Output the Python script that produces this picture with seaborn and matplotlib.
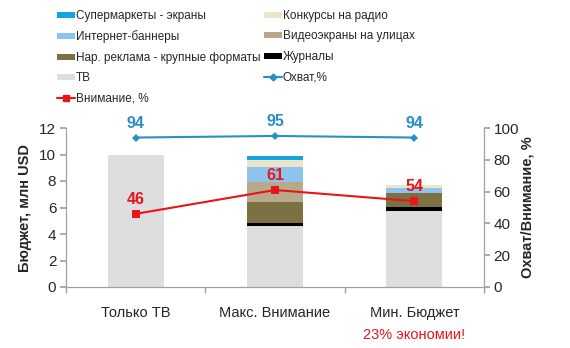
import numpy as np
import pandas as pd
import matplotlib
matplotlib.use("Agg")
import matplotlib.pyplot as plt
from matplotlib.patches import Patch
from matplotlib.lines import Line2D
import seaborn as sns

# ---- data ----
scenarios = ["Только ТВ", "Макс. Внимание", "Мин. Бюджет"]
media = ["ТВ", "Журналы", "Нар. реклама - крупные форматы", "Видеоэкраны на улицах",
         "Интернет-баннеры", "Конкурсы на радио", "Супермаркеты - экраны"]
tv = [10.0, 4.6, 5.76]
magazines = [0.0, 0.25, 0.25]
outdoor_large = [0.0, 1.54, 1.06]
video_screens = [0.0, 1.55, 0.0]
internet = [0.0, 1.09, 0.38]
radio = [0.0, 0.57, 0.25]
supermarkets = [0.0, 0.30, 0.0]
reach = [94, 95, 94]
attention = [46, 61, 54]
savings_note = "23% экономии!"

colors = {
    "ТВ": "#dedede",
    "Журналы": "#000000",
    "Нар. реклама - крупные форматы": "#7b7143",
    "Видеоэкраны на улицах": "#b6aa8b",
    "Интернет-баннеры": "#8cc4ee",
    "Конкурсы на радио": "#ede5cb",
    "Супермаркеты - экраны": "#16a3e2",
}
reach_color = "#2a8fc6"
attn_color = "#e8141a"

sns.set_theme(style="white")
plt.rcParams["font.family"] = ["Liberation Sans", "DejaVu Sans"]

layers = [tv, magazines, outdoor_large, video_screens, internet, radio, supermarkets]
cum = np.cumsum(np.array(layers), axis=0)

fig = plt.figure(figsize=(5.7, 3.48), dpi=100)
ax = fig.add_axes([66 / 570, 1 - 287 / 348, (484 - 66) / 570, (287 - 128) / 348])

# stacked bars: paint cumulative totals from the top layer downwards
for i in range(len(media) - 1, -1, -1):
    df = pd.DataFrame({"scenario": scenarios, "value": cum[i]})
    sns.barplot(data=df, x="scenario", y="value", color=colors[media[i]],
                width=0.4, saturation=1, ax=ax, linewidth=0, order=scenarios)

ax.set_ylim(0, 12)
ax.set_xlim(-0.5, 2.5)
ax.set_yticks(range(0, 13, 2))
ax.set_xlabel("")
ax.set_ylabel("Бюджет, млн USD", fontsize=10.5, fontweight="bold", labelpad=5)
ax.tick_params(axis="y", labelsize=11, length=4, color="#a0a0a0", left=True, pad=3)
ax.tick_params(axis="x", which="major", length=0, labelsize=10.5, pad=14)
ax.set_xticks([-0.5, 0.5, 1.5, 2.5], minor=True)
ax.tick_params(axis="x", which="minor", length=4, color="#a0a0a0", bottom=True)
ax.spines["top"].set_visible(False)
for side in ["left", "bottom", "right"]:
    ax.spines[side].set_color("#a0a0a0")
    ax.spines[side].set_linewidth(0.8)

# percentage lines on the secondary axis
ax2 = ax.twinx()
lines_df = pd.DataFrame({"x": [0, 1, 2], "reach": reach, "attention": attention})
sns.lineplot(data=lines_df, x="x", y="reach", ax=ax2, color=reach_color, marker="D",
             markersize=4, linewidth=1.5, markeredgewidth=0)
sns.lineplot(data=lines_df, x="x", y="attention", ax=ax2, color=attn_color, marker="s",
             markersize=5.5, linewidth=1.5, markeredgewidth=0)
ax2.set_ylim(0, 100)
ax2.set_yticks(range(0, 101, 20))
ax2.set_xlim(-0.5, 2.5)
ax2.set_ylabel("Охват/Внимание, %", fontsize=10.5, fontweight="bold", labelpad=1)
ax2.tick_params(axis="y", labelsize=11, length=4, color="#a0a0a0", right=True, pad=3)
ax2.spines["top"].set_visible(False)
for side in ["left", "bottom", "right"]:
    ax2.spines[side].set_color("#a0a0a0")
    ax2.spines[side].set_linewidth(0.8)

for x, v in enumerate(reach):
    ax2.annotate(f"{v}", (x, v), xytext=(0, 5), textcoords="offset points",
                 ha="center", va="bottom", color=reach_color, fontsize=11.5, fontweight="bold")
for x, v in enumerate(attention):
    ax2.annotate(f"{v}", (x, v), xytext=(0, 5), textcoords="offset points",
                 ha="center", va="bottom", color=attn_color, fontsize=11.5, fontweight="bold")

ax.text(2, -0.305, savings_note, transform=ax.get_xaxis_transform(),
        ha="center", va="center", color=attn_color, fontsize=10.5)

# legend laid out row by row in two columns
def bar_handle(name):
    return Patch(facecolor=colors[name], edgecolor="none", label=name)

col1 = [bar_handle("Супермаркеты - экраны"), bar_handle("Интернет-баннеры"),
        bar_handle("Нар. реклама - крупные форматы"), bar_handle("ТВ"),
        Line2D([], [], color=attn_color, marker="s", markersize=4, lw=1.5,
               label="Внимание, %")]
col2 = [bar_handle("Конкурсы на радио"), bar_handle("Видеоэкраны на улицах"),
        bar_handle("Журналы"),
        Line2D([], [], color=reach_color, marker="D", markersize=3.5, lw=1.5,
               label="Охват,%")]
fig.legend(handles=col1 + col2, ncol=2, loc="upper left",
           bbox_to_anchor=(57 / 570, 1 - 10 / 348), frameon=False, fontsize=8.5,
           borderpad=0, borderaxespad=0, handlelength=1.5, handleheight=0.45,
           handletextpad=0.1, columnspacing=0.3, labelspacing=0.72)

fig.savefig("out.png", dpi=100)
